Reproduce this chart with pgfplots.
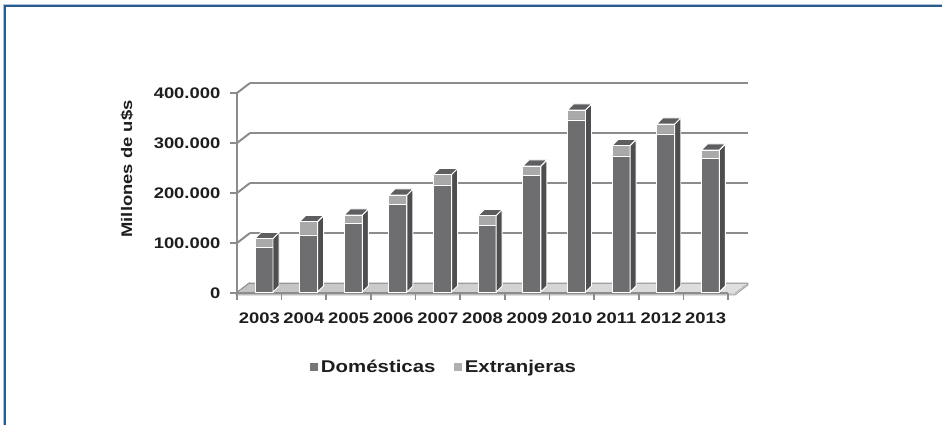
\documentclass[border=0pt]{standalone}
\usepackage{fontspec}
\setmainfont{Liberation Sans}[FakeStretch=1.2]
\usepackage{pgfplots}
\pgfplotsset{compat=1.18}
\usepackage{pgfplotstable}
\definecolor{domc}{HTML}{6E6E70}
\definecolor{extc}{HTML}{A9A9A9}
\definecolor{sidec}{HTML}{4E4E50}
\definecolor{topc}{HTML}{5E5E60}
\definecolor{domleg}{HTML}{777777}
\definecolor{extleg}{HTML}{B0B0B0}
\definecolor{gridc}{HTML}{8C8C8C}
\definecolor{floorc}{HTML}{CDCDCD}
\definecolor{framec}{HTML}{2B5B8E}
\definecolor{framel}{HTML}{A9C1DA}
\definecolor{txt}{HTML}{1E1E1E}
\newlength\hhlen
\pgfplotstableread{
x year dom ext
0 2003 89000 18000
1 2004 114000 27000
2 2005 137000 17000
3 2006 175000 19000
4 2007 214000 21000
5 2008 133000 20000
6 2009 233000 19000
7 2010 344000 20000
8 2011 272000 21000
9 2012 316000 20000
10 2013 267000 17000
}\datatable
\begin{document}
\begin{tikzpicture}[x=0.75pt,y=0.75pt]
% frame
\draw[framel, line width=0.75pt] (3.8,0) -- (3.8,420.2) -- (942,420.2);
\draw[framec, line width=1.5pt] (5.3,0) -- (5.3,418.7) -- (942,418.7);
% back wall grid
\begin{axis}[
  at={(187.5pt,106.5pt)}, anchor=south west, scale only axis,
  width=373.5pt, height=150pt,
  xmin=0, xmax=1, ymin=0, ymax=400000,
  ytick={100000,200000,300000,400000}, yticklabels={},
  scaled y ticks=false,
  xtick=\empty, ymajorgrids,
  grid style={draw=gridc, line width=1.5pt},
  axis line style={draw=none}, major tick length=0pt,
]
\end{axis}
% side wall diagonals
\foreach \v in {0,100,200,300,400}
  \draw[gridc, line width=1.5pt] (237,{132+\v*0.5}) -- (250,{142+\v*0.5});
% floor
\fill[floorc, draw=gridc!80, line width=0.6pt] (236,130) -- (735,130) -- (748,140) -- (748,142) -- (249,142) -- (236,132) -- cycle;
\fill[left color=black!24, right color=black!12] (236.5,132) -- (735,132) -- (747.5,141.6) -- (249.5,141.6) -- cycle;
% front axis
\begin{axis}[
  at={(177.75pt,99pt)}, anchor=south west, scale only axis,
  width=368.25pt, height=150pt,
  xmin=-0.5, xmax=10.5, ymin=0, ymax=400000,
  axis lines*=left,
  axis line style={-, draw=gridc, line width=1.4pt},
  ytick={0,100000,200000,300000,400000},
  minor ytick={0,100000,200000,300000,400000},
  xtick={0,...,10},
  xticklabels={2003,2004,2005,2006,2007,2008,2009,2010,2011,2012,2013},
  minor xtick={-0.5,0.5,...,10.5},
  major tick length=0pt, minor tick length=5pt, tick align=outside,
  tick style={draw=gridc, line width=1.2pt},
  scaled y ticks=false,
  /pgf/number format/fixed,
  /pgf/number format/1000 sep={.},
  /pgf/number format/assume math mode=true,
  tick label style={font=\bfseries\fontsize{11.5}{13}\selectfont, text=txt},
  yticklabel style={xshift=-9pt},
  xticklabel style={yshift=-11pt},
  ylabel={Millones de u\$s},
  ylabel style={at={(axis description cs:-0.224,0.62)}, anchor=center, font=\bfseries\fontsize{11.5}{13}\selectfont, text=txt},
]
\end{axis}
% bars
\begin{axis}[
  at={(181.275pt,99.75pt)}, anchor=south west, scale only axis,
  width=368.25pt, height=150pt,
  xmin=-0.5, xmax=10.5, ymin=0, ymax=400000,
  hide axis, clip=false,
  point meta min=0, point meta max=400000,
  legend style={at={(axis description cs:0.413,-0.375)}, anchor=center, draw=none, fill=none,
    legend columns=2, font=\bfseries\fontsize{12.75}{14}\selectfont, text=txt,
    /tikz/every even column/.append style={column sep=12pt}},
  legend image code/.code={\fill[#1] (0pt,-3pt) rectangle (6pt,3pt);},
]
\addplot[scatter, only marks, mark=*, mark size=0pt, forget plot,
  point meta={\thisrow{dom}+\thisrow{ext}},
  scatter/@pre marker code/.code={%
    \pgfmathsetlength{\hhlen}{\pgfplotspointmetatransformed*0.15pt}%
    \fill[sidec, draw=white, line width=0.7pt] (6.75pt,0pt) -- (11.25pt,4.5pt) -- (11.25pt,{4.5pt-\hhlen}) -- (6.75pt,{-\hhlen}) -- cycle;
    \fill[topc, draw=white, line width=0.7pt] (-6.75pt,0pt) -- (6.75pt,0pt) -- (11.25pt,4.5pt) -- (-2.25pt,4.5pt) -- cycle;
  },
  scatter/@post marker code/.code={},
] table[x=x, y expr=\thisrow{dom}+\thisrow{ext}] {\datatable};
\addplot[ybar, bar width=13.5pt, bar shift=0pt, fill=extc, draw=white, line width=0.7pt, forget plot]
  table[x=x, y expr=\thisrow{dom}+\thisrow{ext}] {\datatable};
\addplot[ybar, bar width=13.5pt, bar shift=0pt, fill=domc, draw=white, line width=0.7pt, forget plot]
  table[x=x, y=dom] {\datatable};
\addlegendimage{fill=domleg, draw=none}
\addlegendentry{Domésticas}
\addlegendimage{fill=extleg, draw=none}
\addlegendentry{Extranjeras}
\end{axis}
\pgfresetboundingbox
\path[use as bounding box] (0,0) rectangle (942,425);
\end{tikzpicture}
\end{document}
